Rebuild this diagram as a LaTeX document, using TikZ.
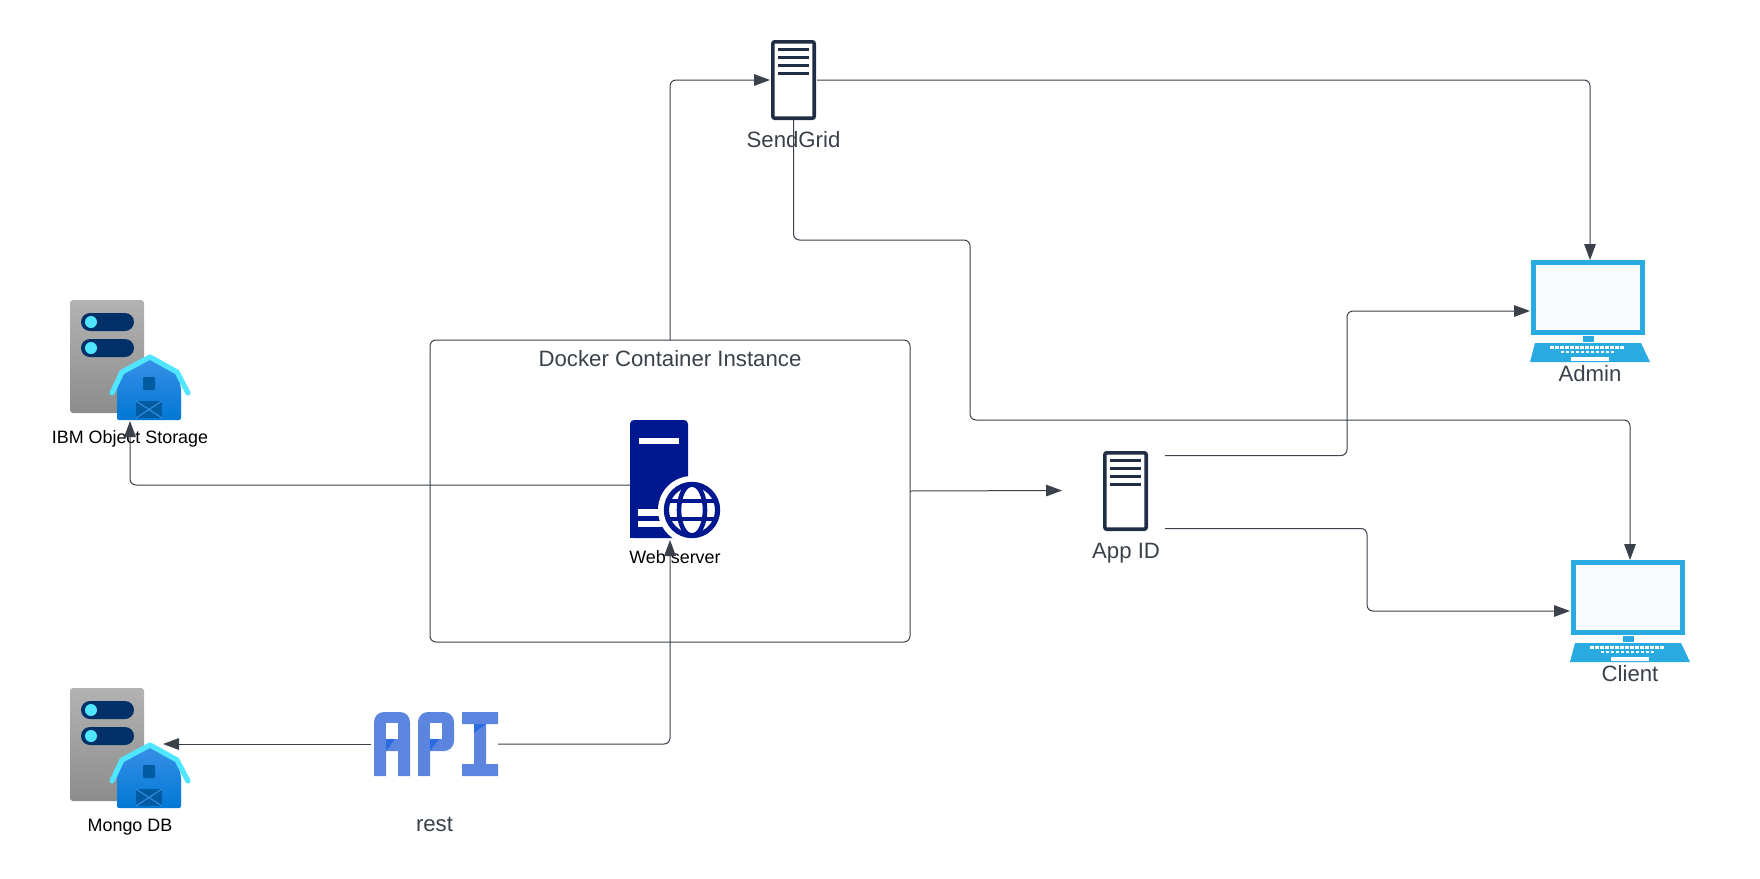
\documentclass[tikz,border=0pt]{standalone}
\usepackage{fontspec}
\setmainfont{Liberation Sans}
\usepackage{xcolor}
\usetikzlibrary{arrows.meta, positioning}

\definecolor{linegray}{HTML}{3A414A}
\definecolor{darkink}{HTML}{202E45}
\definecolor{laptopblue}{HTML}{29ABE2}
\definecolor{screenfill}{HTML}{F8FCFE}
\definecolor{webnavy}{HTML}{00188F}
\definecolor{apiblue}{HTML}{5C85E0}
\definecolor{apidark}{HTML}{2A6BE0}
\definecolor{pillnavy}{HTML}{003067}
\definecolor{dotcyan}{HTML}{50E6FF}
\definecolor{barntop}{HTML}{3A90E8}
\definecolor{barnlow}{HTML}{0078D4}
\definecolor{barndark}{HTML}{005BA1}

\tikzset{
  pics/srvicon/.style={code={
    \draw[darkink, line width=1.8pt, rounded corners=1pt, fill=white] (1.8,1.8) rectangle (43.2,78.2);
    \foreach \row in {9,17,25,33} {
      \draw[darkink, line width=1.5pt] (7,\row) -- (38,\row);
    }
  }},
  pics/laptopicon/.style={code={
    \draw[laptopblue, line width=2.5pt, fill=screenfill] (3.5,2.5) rectangle (112.5,72.5);
    \fill[laptopblue] (53,76) rectangle (64,82);
    \fill[laptopblue] (5,83) -- (111,83) -- (120,102) -- (0,102) -- cycle;
    \foreach \k in {0,...,14} {
      \fill[white] (20+\k*5,86) rectangle ++(3.5,3);
    }
    \foreach \k in {0,...,10} {
      \fill[white] (31+\k*5,90.5) rectangle ++(3,2.8);
    }
    \fill[white] (41,97) rectangle (79,101);
  }},
  pics/storeicon/.style={code={
    \shade[top color=black!30, bottom color=black!45, rounded corners=1.5pt] (-27,0) rectangle (47,113);
    \fill[pillnavy, rounded corners=4.5pt] (-16,13) rectangle (37,31);
    \fill[pillnavy, rounded corners=4.5pt] (-16,39) rectangle (37,57);
    \fill[dotcyan] (-6,22) circle (3pt);
    \fill[dotcyan] (-6,48) circle (3pt);
    \shade[top color=barntop, bottom color=barnlow, rounded corners=1pt]
      (20,120) -- (20,88) -- (25,72) -- (53,57) -- (80,72) -- (84,88) -- (84,120) -- cycle;
    \draw[dotcyan, line width=2.6pt, line cap=round, line join=round]
      (15,93) -- (25,72) -- (53,57) -- (80,72) -- (91,93);
    \fill[barndark, rounded corners=0.5pt] (46,77) rectangle (58,90);
    \fill[barndark] (39,101) rectangle (65,118);
    \draw[barntop, line width=0.5pt] (39,101) -- (65,118) (65,101) -- (39,118);
  }},
  pics/webicon/.style={code={
    \fill[webnavy, rounded corners=2pt] (0,108) -- (0,-10) -- (58,-10) -- (58,108) -- cycle;
    \fill[webnavy] (0,100) rectangle (30,108);
    \fill[white] (9,8) rectangle (49,14);
    \fill[white] (8,79) rectangle (32,86);
    \fill[white] (8,91) rectangle (32,97);
    \fill[white] (62,80) circle (17pt);
    \draw[webnavy, line width=2.6pt] (62,80) circle (12.8pt);
    \draw[webnavy, line width=2.3pt] (62,80) ellipse (6.5pt and 12.8pt);
    \draw[webnavy, line width=2.3pt] (38,71) -- (86,71) (38,89) -- (86,89);
  }},
  pics/apiicon/.style={code={
    \fill[apiblue] (3,64) -- (3,20) [rounded corners=5pt] -- (3,0) -- (39,0) -- (39,20) [sharp corners]
      -- (39,64) -- (27,64) -- (27,39) -- (15,39) -- (15,64) -- cycle;
    \fill[white] (15,11) rectangle (27,27);
    \fill[apidark] (15,27) -- (24,27) -- (15,39) -- cycle;
    \fill[apiblue] (47,64) -- (47,20) [rounded corners=5pt] -- (47,0) -- (83,0) -- (83,39) -- (70,39) [sharp corners]
      -- (59,39) -- (59,64) -- cycle;
    \fill[white] (59,11) rectangle (71,27);
    \fill[apidark] (59,27) -- (68,27) -- (59,39) -- cycle;
    \fill[apiblue] (91,0) -- (127,0) -- (127,12) -- (115,12) -- (115,52) -- (127,52) -- (127,64)
      -- (91,64) -- (91,52) -- (103,52) -- (103,12) -- (91,12) -- cycle;
    \fill[apidark] (103,12) -- (115,12) -- (103,21) -- cycle;
  }}
}

\begin{document}
\begin{tikzpicture}[
  x=0.5pt, y=-0.5pt,
  icon/.style={inner sep=0pt, outer sep=0pt},
  lbl/.style={inner sep=0pt, outer sep=0pt, font=\fontsize{11.1}{13}\selectfont, text=linegray,
              text height=8pt, text depth=2.1pt},
  blbl/.style={lbl, font=\fontsize{8.95}{11}\selectfont, text=black, text height=6.5pt, text depth=1.7pt},
  arr/.style={-{Triangle[length=8pt, width=5.8pt]}, linegray, line width=0.5pt, rounded corners=3pt}
]
\useasboundingbox (0,0) rectangle (1760,878);

\node[icon, minimum width=240pt, minimum height=151pt, draw=linegray, line width=0.5pt, rounded corners=3pt] (docker) at (670,491) {};
\node[icon, minimum width=23.5pt, minimum height=40pt] (sendgrid) at (793.5,80) {};
\node[icon, minimum width=60pt, minimum height=51pt] (admin) at (1590,311) {};
\node[icon, minimum width=60pt, minimum height=51pt] (client) at (1630,611) {};
\node[icon, minimum width=51.5pt, minimum height=39.5pt] (appid) at (1113.5,490.5) {};
\node[icon, minimum width=40pt, minimum height=55pt] (webserver) at (670,485) {};
\node[icon, minimum width=33pt, minimum height=60.5pt] (ibm) at (130,360.5) {};
\node[icon, minimum width=33pt, minimum height=60.5pt] (mongo) at (130,748.5) {};
\node[icon, minimum width=63.5pt, minimum height=32pt] (api) at (434.5,744) {};

\pic at (771,40) {srvicon};
\pic at (1103,451) {srvicon};
\pic at (admin.north west) {laptopicon};
\pic at (client.north west) {laptopicon};
\pic at (webserver.north west) {webicon};
\pic at (ibm.north west) {storeicon};
\pic at (mongo.north west) {storeicon};
\pic at (api.north west) {apiicon};

\node[lbl, below=5pt of docker.north] (dockerlabel) {Docker Container Instance};
\node[lbl, below=5.8pt of sendgrid] (sendgridlabel) {SendGrid};
\node[lbl, below=1.7pt of admin] (adminlabel) {Admin};
\node[lbl, below=1.7pt of client] (clientlabel) {Client};
\node[lbl, below=6pt of appid, xshift=6.3pt] (appidlabel) {App ID};
\node[lbl, below=19.5pt of api] (apilabel) {rest};
\node[blbl, below=5.2pt of webserver, xshift=2.5pt] (webserverlabel) {Web server};
\node[blbl, below=4.7pt of ibm] (ibmlabel) {IBM Object Storage};
\node[blbl, below=4.7pt of mongo] (mongolabel) {Mongo DB};

\coordinate (wayA) at (970,240);
\coordinate (wayB) at (970,420);
\coordinate (appidA) at ([yshift=17.5pt]appid.east);
\coordinate (appidB) at ([yshift=-19pt]appid.east);

\draw[arr] (docker.north) |- (sendgrid.west);
\draw[arr] (sendgrid.east) -| (admin.north);
\draw[arr] (sendgrid.south) |- (wayA) -- (wayB) -| (client.north);
\draw[arr] (docker.east) -- (appid.west);
\draw[arr] (appidA) -- ++(91pt,0) |- (admin.west);
\draw[arr] (appidB) -- ++(101pt,0) |- (client.west);
\draw[arr] (webserver.west) -| (ibm.south);
\draw[arr] (api.east) -| (webserver.south);
\draw[arr] (api.west) -- (mongo.east |- api.west);
\end{tikzpicture}
\end{document}
